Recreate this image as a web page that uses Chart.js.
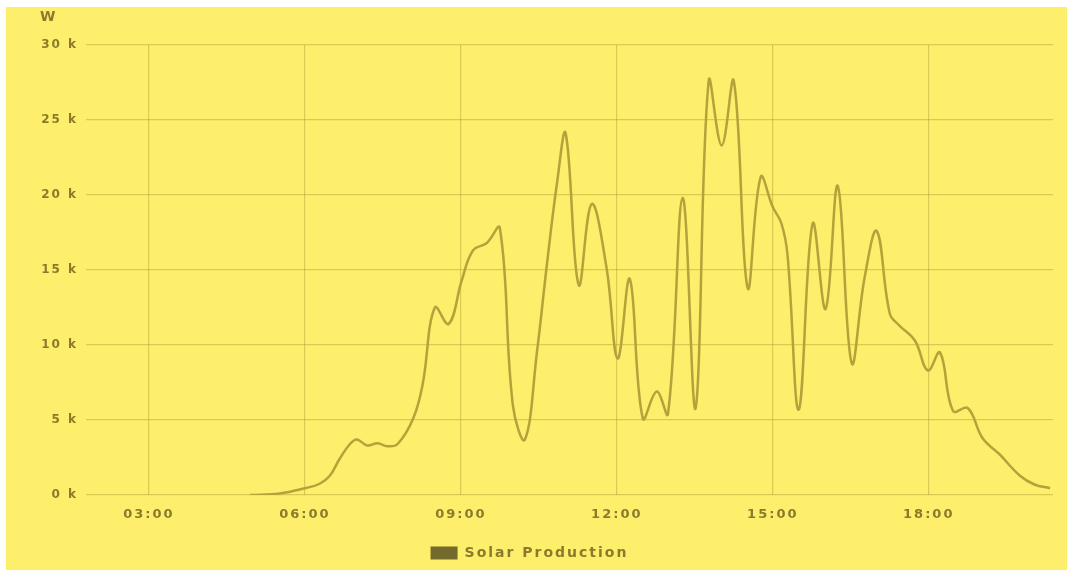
<!DOCTYPE html>
<html><head><meta charset="utf-8">
<script src="https://cdn.jsdelivr.net/npm/chart.js@4"></script>
<style>
html,body{margin:0;padding:0;background:#fff;width:1067px;height:570px;overflow:hidden}
#wrap{position:absolute;left:6px;top:7px;width:1061px;height:563px;background:#fdee6b}
canvas{display:block}
</style></head><body>
<div id="wrap"><canvas id="c" width="1061" height="563"></canvas></div>
<script>
const seriesName = 'Solar Production';
const unitLabel = 'W';
const times = ['04:57','05:31','06:00','06:17','06:29','06:40','06:52','07:00','07:12','07:24','07:35','07:47','08:05','08:16','08:30','08:46','09:01','09:14','09:30','09:45','10:00','10:14','10:28','10:39','10:51','11:01','11:16','11:31','11:48','12:01','12:15','12:30','12:46','12:59','13:16','13:31','13:46','14:01','14:15','14:31','14:46','15:00','15:10','15:17','15:30','15:46','16:01','16:15','16:31','16:46','17:00','17:15','17:26','17:44','17:59','18:13','18:28','18:45','19:02','19:22','19:45','20:02','20:20'];
const watts = [0,100,450,750,1300,2400,3400,3700,3300,3450,3250,3400,5100,7400,12500,11400,14300,16300,16800,17800,6000,3700,9600,15200,20800,24100,14000,19400,15200,9100,14400,5100,6900,5400,19800,5800,27600,23300,27600,13800,21200,19200,18100,16000,5700,18100,12400,20600,8800,14500,17600,12100,11300,10300,8300,9500,5600,5800,3800,2700,1300,700,450];
const tickLabels = ['03:00','06:00','09:00','12:00','15:00','18:00'];
const yTickValues = [0,5000,10000,15000,20000,25000,30000];

const toHours = s => { const [h,m] = s.split(':').map(Number); return h + m/60; };
const points = times.map((t,i) => ({x: toHours(t), y: watts[i]}));
const tickHours = tickLabels.map(toHours);

const textColor = '#8a7b2c';
const gridColor = 'rgba(150,128,30,0.32)';
const lineColor = '#b5a23a';
const boxColor = '#746a2c';

const deco = {
  id: 'deco',
  beforeLayout(chart){ chart.ctx.letterSpacing = '2px'; },
  beforeDraw(chart){ chart.ctx.letterSpacing = '2px'; },
  afterDraw(chart){
    const c = chart.ctx; c.save();
    c.font = 'bold 14px "DejaVu Sans"'; c.fillStyle = textColor;
    c.textBaseline = 'middle'; c.textAlign = 'left';
    c.fillText(unitLabel, 34, 10); c.restore();
  }
};

new Chart(document.getElementById('c'), {
  type: 'line',
  data: { datasets: [{
    label: seriesName, data: points,
    borderColor: lineColor, backgroundColor: boxColor,
    borderWidth: 2.5, pointRadius: 0, tension: 0.4, fill: false
  }]},
  options: {
    responsive: false, animation: false, devicePixelRatio: 1,
    layout: { padding: { top: 38, right: 14, left: 0, bottom: 0 } },
    scales: {
      x: {
        type: 'linear', min: 1.79, max: 20.39,
        afterBuildTicks(s){ s.ticks = tickHours.map(v => ({value: v})); },
        afterFit(s){ s.height = 41; },
        ticks: { autoSkip: false, maxRotation: 0, padding: 12, color: textColor,
          font: { family: 'DejaVu Sans', size: 13, weight: 'bold' },
          callback: (v) => { const i = tickHours.indexOf(v); return i >= 0 ? tickLabels[i] : ''; } },
        grid: { color: gridColor, lineWidth: 1.2, drawTicks: false },
        border: { display: false }
      },
      y: {
        min: 0, max: 30000,
        afterBuildTicks(s){ s.ticks = yTickValues.map(v => ({value: v})); },
        afterFit(s){ s.width = 80; },
        ticks: { padding: 8, color: textColor,
          font: { family: 'DejaVu Sans', size: 12, weight: 'bold' },
          callback: v => (v/1000) + ' k' },
        grid: { color: gridColor, lineWidth: 1.2, drawTicks: false },
        border: { display: false }
      }
    },
    plugins: {
      title: { display: false },
      tooltip: { enabled: false },
      legend: {
        position: 'bottom',
        labels: {
          color: textColor, boxWidth: 27, boxHeight: 13, padding: 10,
          font: { family: 'DejaVu Sans', size: 14, weight: 'bold' },
          generateLabels(chart){
            return chart.data.datasets.map((d,i) => ({
              text: d.label, fillStyle: boxColor, strokeStyle: boxColor,
              lineWidth: 0, hidden: false, datasetIndex: i, fontColor: textColor
            }));
          }
        }
      }
    }
  },
  plugins: [deco]
});
</script>
</body></html>
